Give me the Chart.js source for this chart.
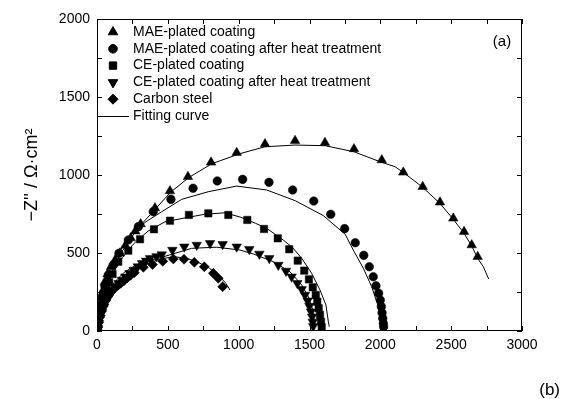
<!DOCTYPE html>
<html>
<head>
<meta charset="utf-8">
<script src="https://cdn.jsdelivr.net/npm/chart.js@4.4.0/dist/chart.umd.min.js"></script>
<style>
    html, body { margin: 0; padding: 0; background: #fff; }
    canvas { display: block; }
</style>
</head>
<body>
<canvas id="nyquist" width="561" height="399"></canvas>
<script>
// MAE-plated coating (up triangles)
const maeX = [2, 6, 12, 21, 33, 45, 56, 75, 99, 128, 162, 200, 238, 270, 308, 409, 515, 642, 805, 986, 1186, 1398, 1609, 1814, 2010, 2162, 2299, 2421, 2515, 2591, 2645, 2687];
const maeY = [25, 65, 110, 160, 213, 265, 316, 365, 412, 455, 498, 548, 596, 640, 686, 788, 897, 989, 1081, 1143, 1199, 1220, 1207, 1167, 1096, 1017, 925, 825, 722, 637, 551, 476];
const maeFitX = [0, 8, 20, 40, 70, 110, 160, 230, 310, 410, 520, 650, 810, 1009, 1186, 1398, 1609, 1814, 1998, 2104, 2162, 2299, 2421, 2515, 2591, 2645, 2687, 2727, 2765];
const maeFitY = [0, 70, 140, 220, 300, 390, 485, 585, 680, 780, 890, 985, 1072, 1137, 1181, 1192, 1188, 1149, 1085, 1053, 1017, 921, 818, 716, 626, 545, 466, 412, 333];

// MAE-plated coating after heat treatment (circles)
const maeHeatX = [3, 8, 15, 25, 38, 55, 80, 115, 155, 221, 292, 397, 522, 678, 849, 1028, 1214, 1381, 1530, 1650, 1748, 1823, 1883, 1922, 1950, 1969, 1988, 2000, 2007, 2012, 2017, 2021, 2023];
const maeHeatY = [20, 60, 110, 165, 225, 290, 359, 423, 498, 583, 669, 765, 844, 915, 962, 972, 953, 904, 833, 748, 656, 566, 485, 412, 348, 290, 242, 199, 156, 117, 81, 49, 28];
const maeHeatFitX = [0, 5, 15, 33, 80, 150, 245, 345, 457, 598, 786, 986, 1198, 1400, 1597, 1752, 1809, 1880, 1939, 1986, 2005, 2008];
const maeHeatFitY = [0, 92, 170, 242, 370, 498, 626, 700, 765, 844, 893, 929, 904, 835, 740, 620, 519, 402, 284, 156, 49, 30];

// CE-plated coating (squares)
const ceX = [6, 14, 24, 36, 50, 66, 86, 110, 150, 221, 304, 402, 515, 649, 786, 927, 1061, 1179, 1276, 1357, 1417, 1463, 1496, 1523, 1544, 1555, 1565, 1574, 1581, 1586];
const ceY = [30, 75, 122, 170, 218, 265, 312, 365, 444, 515, 588, 652, 707, 744, 754, 744, 712, 654, 594, 524, 451, 387, 331, 280, 231, 188, 146, 103, 60, 24];
const ceFitX = [0, 10, 30, 60, 110, 180, 260, 360, 480, 621, 760, 904, 1015, 1120, 1198, 1315, 1380, 1445, 1515, 1574, 1616, 1633, 1640];
const ceFitY = [0, 90, 180, 270, 370, 470, 560, 640, 700, 725, 748, 758, 729, 690, 658, 583, 535, 466, 370, 263, 167, 60, 28];

// CE-plated coating after heat treatment (down triangles)
const ceHeatX = [3, 7, 14, 24, 36, 50, 66, 86, 106, 130, 153, 176, 200, 230, 259, 288, 318, 346, 374, 420, 457, 532, 616, 704, 798, 887, 986, 1075, 1146, 1216, 1280, 1334, 1374, 1414, 1445, 1468, 1487, 1499, 1511, 1518, 1523, 1526];
const ceHeatY = [5, 20, 50, 85, 120, 155, 190, 222, 252, 280, 306, 327, 348, 370, 391, 413, 434, 450, 466, 478, 490, 519, 540, 551, 562, 556, 540, 524, 494, 466, 423, 385, 348, 306, 267, 231, 194, 160, 124, 92, 58, 30];
const ceHeatFitX = [0, 10, 30, 65, 120, 190, 280, 380, 433, 551, 668, 762, 845, 1009, 1103, 1245, 1362, 1445, 1492, 1523, 1536, 1540];
const ceHeatFitY = [0, 80, 160, 240, 310, 375, 425, 455, 466, 498, 530, 534, 537, 519, 494, 444, 380, 295, 220, 135, 49, 25];

// Carbon steel (diamonds)
const steelX = [2, 6, 12, 20, 30, 44, 60, 80, 100, 122, 145, 168, 190, 212, 237, 263, 327, 392, 464, 539, 614, 687, 757, 821, 856, 887];
const steelY = [5, 25, 55, 90, 125, 160, 195, 228, 252, 272, 290, 306, 322, 340, 357, 374, 408, 426, 447, 462, 460, 440, 412, 370, 338, 284];
const steelFitX = [0, 10, 25, 50, 85, 130, 190, 260, 350, 450, 539, 630, 727, 790, 860, 910, 939];
const steelFitY = [0, 60, 120, 180, 240, 295, 345, 390, 430, 462, 476, 468, 434, 405, 355, 305, 263];

const legendLabels = ['MAE-plated coating', 'MAE-plated coating after heat treatment', 'CE-plated coating', 'CE-plated coating after heat treatment', 'Carbon steel', 'Fitting curve'];
const xMax = 3000;
const yMax = 2000;

const FONT = 'Arial, "Liberation Sans", sans-serif';
Chart.defaults.font.family = FONT;
Chart.defaults.color = '#000';

function pts(xs, ys) {
    return xs.map(function (x, i) { return { x: x, y: ys[i] }; });
}

const markerStyles = [
    { pointStyle: 'triangle', radius: 5.5, rotation: 0 },
    { pointStyle: 'circle', radius: 4.3, rotation: 0 },
    { pointStyle: 'rect', radius: 5.2, rotation: 0 },
    { pointStyle: 'triangle', radius: 5.5, rotation: 180 },
    { pointStyle: 'rectRot', radius: 5, rotation: 0 }
];

function markerSet(label, xs, ys, m) {
    return {
        label: label,
        data: pts(xs, ys),
        showLine: false,
        pointStyle: m.pointStyle,
        pointRotation: m.rotation,
        pointRadius: m.radius,
        pointBackgroundColor: '#000',
        pointBorderColor: '#000',
        pointBorderWidth: 0.5
    };
}

function fitSet(xs, ys) {
    return {
        label: 'Fitting curve',
        data: pts(xs, ys),
        showLine: true,
        borderColor: '#000',
        borderWidth: 1,
        pointRadius: 0,
        tension: 0,
        fill: false
    };
}

const TICK_LEN = 5;

const framePlugin = {
    id: 'frame',
    afterDatasetsDraw: function (chart) {
        const ctx = chart.ctx;
        const a = chart.chartArea;
        const sx = chart.scales.x;
        const sy = chart.scales.y;
        ctx.save();
        ctx.strokeStyle = '#000';
        ctx.lineWidth = 1;
        ctx.strokeRect(a.left + 0.5, a.top + 0.5, a.right - a.left - 1, a.bottom - a.top - 1);
        ctx.beginPath();
        sx.ticks.forEach(function (t) {
            const px = Math.round(sx.getPixelForValue(t.value)) + 0.5;
            ctx.moveTo(px, a.bottom); ctx.lineTo(px, a.bottom - TICK_LEN);
            ctx.moveTo(px, a.top); ctx.lineTo(px, a.top + TICK_LEN);
        });
        sy.ticks.forEach(function (t) {
            const py = Math.round(sy.getPixelForValue(t.value)) + 0.5;
            ctx.moveTo(a.left, py); ctx.lineTo(a.left + TICK_LEN, py);
            ctx.moveTo(a.right, py); ctx.lineTo(a.right - TICK_LEN, py);
        });
        ctx.stroke();

        // legend
        ctx.fillStyle = '#000';
        ctx.font = '14px ' + FONT;
        ctx.textBaseline = 'middle';
        ctx.textAlign = 'left';
        const lx = a.left + 16;
        const tx = a.left + 36;
        legendLabels.forEach(function (label, i) {
            const ly = a.top + 13 + i * 16.8;
            if (i < markerStyles.length) {
                const m = markerStyles[i];
                Chart.helpers.drawPoint(ctx, {
                    pointStyle: m.pointStyle,
                    rotation: m.rotation,
                    radius: m.radius,
                    borderWidth: 0.5
                }, lx, ly);
            } else {
                ctx.beginPath();
                ctx.moveTo(a.left, Math.round(ly) + 0.5);
                ctx.lineTo(a.left + 32, Math.round(ly) + 0.5);
                ctx.stroke();
            }
            ctx.fillText(label, tx, ly);
        });

        ctx.font = '15px ' + FONT;
        ctx.textAlign = 'center';
        ctx.fillText('(a)', 502, 42);
        ctx.font = '17px ' + FONT;
        ctx.textAlign = 'right';
        ctx.fillText('(b)', 560, 390);
        ctx.restore();
    }
};

new Chart(document.getElementById('nyquist').getContext('2d'), {
    type: 'scatter',
    data: {
        datasets: [
            markerSet(legendLabels[0], maeX, maeY, markerStyles[0]),
            markerSet(legendLabels[1], maeHeatX, maeHeatY, markerStyles[1]),
            markerSet(legendLabels[2], ceX, ceY, markerStyles[2]),
            markerSet(legendLabels[3], ceHeatX, ceHeatY, markerStyles[3]),
            markerSet(legendLabels[4], steelX, steelY, markerStyles[4]),
            fitSet(maeFitX, maeFitY),
            fitSet(maeHeatFitX, maeHeatFitY),
            fitSet(ceFitX, ceFitY),
            fitSet(ceHeatFitX, ceHeatFitY),
            fitSet(steelFitX, steelFitY)
        ]
    },
    options: {
        responsive: false,
        animation: false,
        events: [],
        layout: { padding: { top: 19, right: 39, left: 0, bottom: 0 } },
        plugins: {
            legend: { display: false },
            tooltip: { enabled: false }
        },
        scales: {
            x: {
                type: 'linear',
                min: 0,
                max: xMax,
                grid: { display: false, drawTicks: false },
                border: { display: false },
                ticks: {
                    stepSize: 250,
                    autoSkip: false,
                    maxRotation: 0,
                    padding: 6,
                    font: { size: 14 },
                    color: '#000',
                    callback: function (v) { return v % 500 === 0 ? String(v) : ''; }
                },
                afterFit: function (scale) { scale.height = 68; }
            },
            y: {
                type: 'linear',
                min: 0,
                max: yMax,
                grid: { display: false, drawTicks: false },
                border: { display: false },
                title: {
                    display: true,
                    text: '\u2212Z\'\' / \u03A9\u00B7cm\u00B2',
                    font: { size: 18 },
                    color: '#000',
                    padding: { top: 21, bottom: 0 }
                },
                ticks: {
                    stepSize: 250,
                    autoSkip: false,
                    padding: 7,
                    font: { size: 14 },
                    color: '#000',
                    callback: function (v) { return v % 500 === 0 ? String(v) : ''; }
                },
                afterFit: function (scale) { scale.width = 97; }
            }
        }
    },
    plugins: [framePlugin]
});
</script>
</body>
</html>
